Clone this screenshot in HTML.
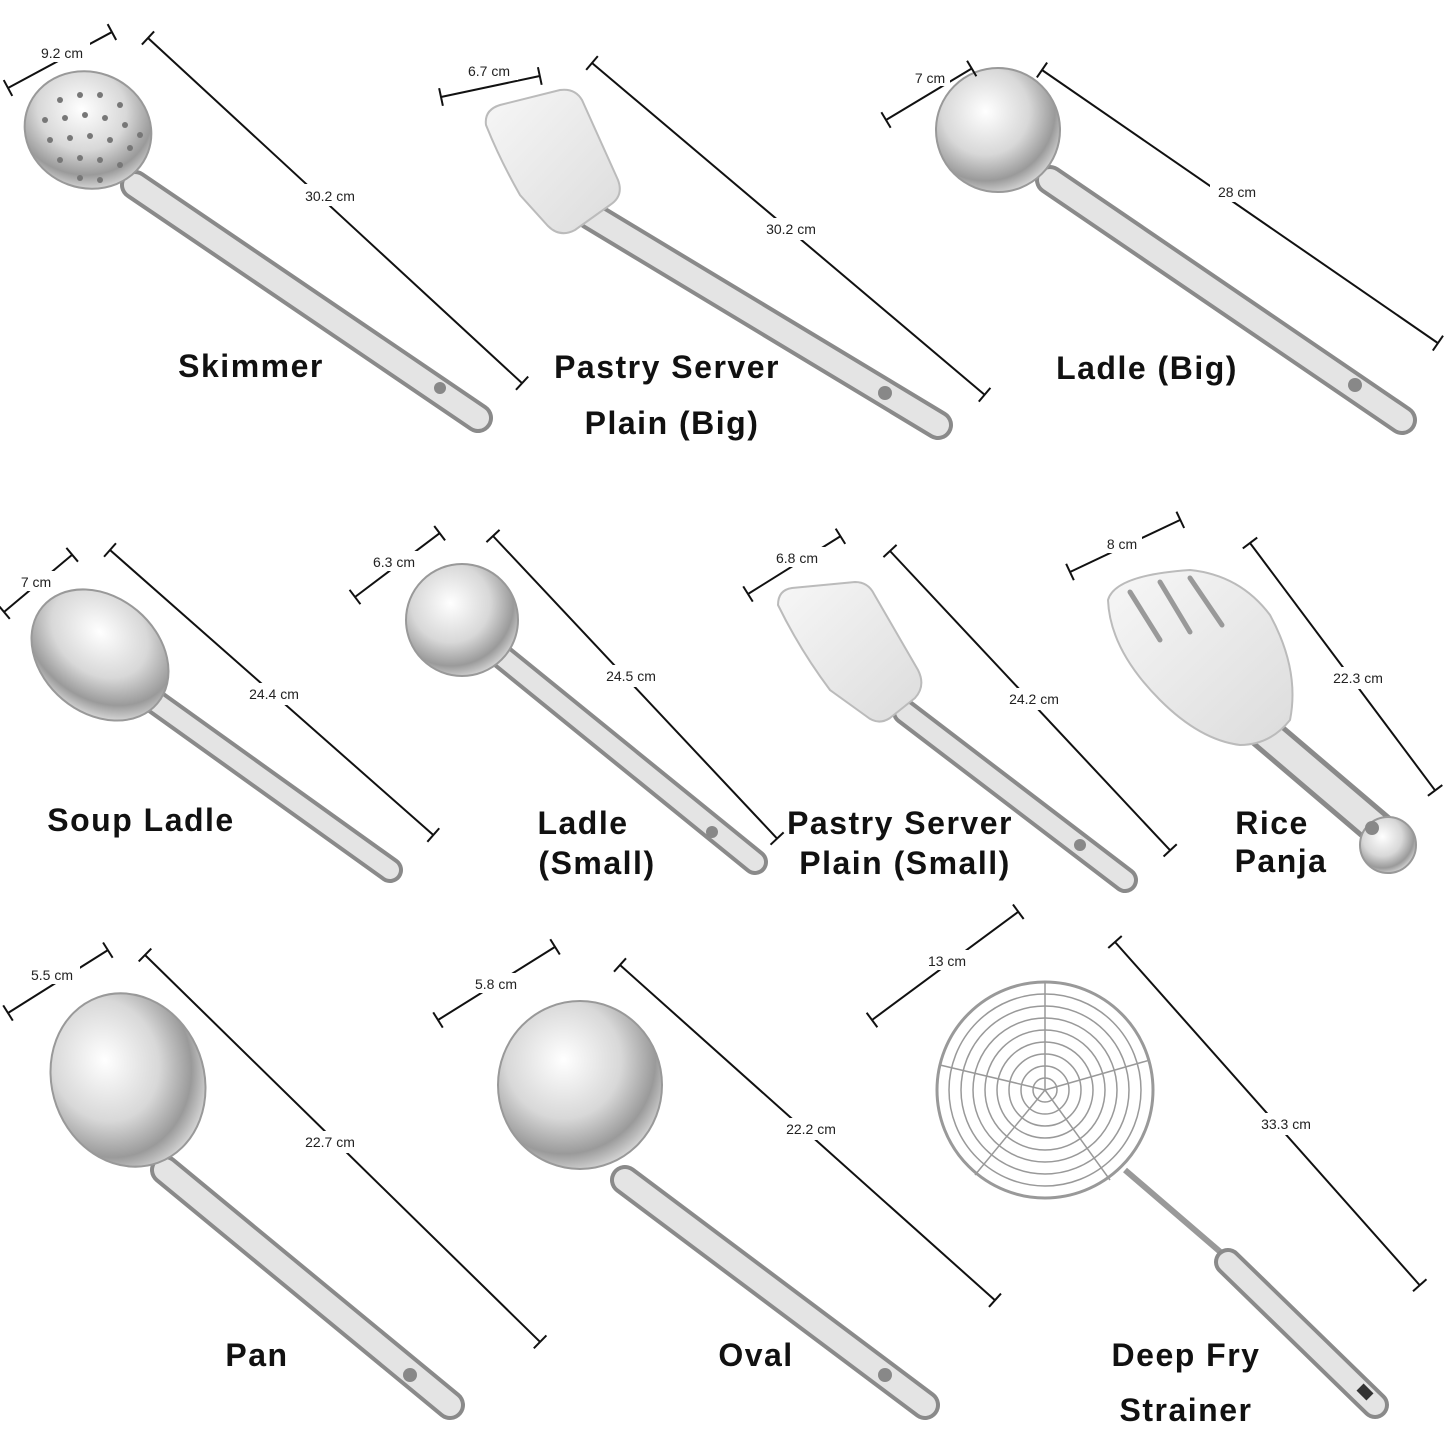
<!DOCTYPE html>
<html><head><meta charset="utf-8"><style>
html,body{margin:0;padding:0;background:#fff}
svg{display:block}
.n{font-family:"Liberation Sans",sans-serif;font-weight:bold;font-size:32px;fill:#111;letter-spacing:1.5px}
.c{font-family:"Liberation Sans",sans-serif;font-size:14px;fill:#222}
.d line{stroke:#111;stroke-width:2}
.h{stroke:#8a8a8a;stroke-linecap:round}
.hi{stroke:#e4e4e4;stroke-linecap:round}
</style></head><body>
<svg width="1445" height="1445" viewBox="0 0 1445 1445" xmlns="http://www.w3.org/2000/svg">
<defs>
<radialGradient id="s" cx="40%" cy="35%" r="70%"><stop offset="0" stop-color="#fff"/><stop offset="0.5" stop-color="#d8d8d8"/><stop offset="0.8" stop-color="#9a9a9a"/><stop offset="1" stop-color="#e0e0e0"/></radialGradient>
<linearGradient id="f" x1="0" y1="0" x2="1" y2="1"><stop offset="0" stop-color="#f7f7f7"/><stop offset="1" stop-color="#dcdcdc"/></linearGradient>
</defs>

<g>
<!-- Skimmer -->
<line class="h" x1="135" y1="185" x2="478" y2="418" stroke-width="30"/>
<line class="hi" x1="135" y1="185" x2="478" y2="418" stroke-width="22"/>
<ellipse cx="88" cy="130" rx="64" ry="58" transform="rotate(20 88 130)" fill="url(#s)" stroke="#999" stroke-width="2"/>
<g fill="#777">
<circle cx="60" cy="100" r="3"/><circle cx="80" cy="95" r="3"/><circle cx="100" cy="95" r="3"/><circle cx="120" cy="105" r="3"/>
<circle cx="45" cy="120" r="3"/><circle cx="65" cy="118" r="3"/><circle cx="85" cy="115" r="3"/><circle cx="105" cy="118" r="3"/><circle cx="125" cy="125" r="3"/><circle cx="140" cy="135" r="3"/>
<circle cx="50" cy="140" r="3"/><circle cx="70" cy="138" r="3"/><circle cx="90" cy="136" r="3"/><circle cx="110" cy="140" r="3"/><circle cx="130" cy="148" r="3"/>
<circle cx="60" cy="160" r="3"/><circle cx="80" cy="158" r="3"/><circle cx="100" cy="160" r="3"/><circle cx="120" cy="165" r="3"/><circle cx="80" cy="178" r="3"/><circle cx="100" cy="180" r="3"/>
</g>
<circle cx="440" cy="388" r="6" fill="#888"/>
<!-- Pastry big -->
<line class="h" x1="590" y1="215" x2="938" y2="425" stroke-width="30"/>
<line class="hi" x1="590" y1="215" x2="938" y2="425" stroke-width="22"/>
<path d="M486 125 Q484 110 500 105 L560 90 Q575 88 582 100 L618 180 Q624 196 610 205 L575 230 Q560 238 548 226 L520 195 Q500 160 486 125Z" fill="url(#f)" stroke="#bbb" stroke-width="2"/>
<circle cx="885" cy="393" r="7" fill="#888"/>
<!-- Ladle big -->
<line class="h" x1="1050" y1="180" x2="1402" y2="420" stroke-width="30"/>
<line class="hi" x1="1050" y1="180" x2="1402" y2="420" stroke-width="22"/>
<circle cx="998" cy="130" r="62" fill="url(#s)" stroke="#999" stroke-width="2"/>
<circle cx="1355" cy="385" r="7" fill="#888"/>
<!-- Soup ladle -->
<line class="h" x1="150" y1="698" x2="390" y2="870" stroke-width="26"/>
<line class="hi" x1="150" y1="698" x2="390" y2="870" stroke-width="18"/>
<ellipse cx="100" cy="655" rx="75" ry="58" transform="rotate(40 100 655)" fill="url(#s)" stroke="#999" stroke-width="2"/>
<!-- Ladle small -->
<line class="h" x1="500" y1="655" x2="755" y2="862" stroke-width="26"/>
<line class="hi" x1="500" y1="655" x2="755" y2="862" stroke-width="18"/>
<circle cx="462" cy="620" r="56" fill="url(#s)" stroke="#999" stroke-width="2"/>
<circle cx="712" cy="832" r="6" fill="#888"/>
<!-- Pastry small -->
<line class="h" x1="905" y1="712" x2="1125" y2="880" stroke-width="26"/>
<line class="hi" x1="905" y1="712" x2="1125" y2="880" stroke-width="18"/>
<path d="M778 605 Q778 590 792 588 L855 582 Q868 582 874 594 L918 670 Q926 686 915 698 L890 718 Q878 726 866 716 L830 690 Q800 650 778 605Z" fill="url(#f)" stroke="#bbb" stroke-width="2"/>
<circle cx="1080" cy="845" r="6" fill="#888"/>
<!-- Rice panja -->
<line class="h" x1="1250" y1="720" x2="1385" y2="835" stroke-width="36"/>
<line class="hi" x1="1250" y1="720" x2="1385" y2="835" stroke-width="26"/>
<path d="M1108 600 Q1115 575 1190 570 Q1240 575 1270 615 Q1300 670 1290 720 Q1270 745 1240 745 Q1200 740 1160 700 Q1110 650 1108 600Z" fill="url(#f)" stroke="#bbb" stroke-width="2"/>
<g stroke="#999" stroke-width="5" stroke-linecap="round"><line x1="1130" y1="592" x2="1160" y2="640"/><line x1="1160" y1="582" x2="1190" y2="632"/><line x1="1190" y1="578" x2="1222" y2="625"/></g>
<circle cx="1388" cy="845" r="28" fill="url(#s)" stroke="#999" stroke-width="2"/>
<circle cx="1372" cy="828" r="7" fill="#888"/>
<!-- Pan -->
<line class="h" x1="165" y1="1170" x2="450" y2="1405" stroke-width="30"/>
<line class="hi" x1="165" y1="1170" x2="450" y2="1405" stroke-width="22"/>
<ellipse cx="128" cy="1080" rx="76" ry="88" transform="rotate(-20 128 1080)" fill="url(#s)" stroke="#999" stroke-width="2"/>
<circle cx="410" cy="1375" r="7" fill="#888"/>
<!-- Oval -->
<line class="h" x1="625" y1="1180" x2="925" y2="1405" stroke-width="30"/>
<line class="hi" x1="625" y1="1180" x2="925" y2="1405" stroke-width="22"/>
<ellipse cx="580" cy="1085" rx="82" ry="84" fill="url(#s)" stroke="#999" stroke-width="2"/>
<circle cx="885" cy="1375" r="7" fill="#888"/>
<!-- Deep fry -->
<line x1="1125" y1="1170" x2="1232" y2="1262" stroke="#999" stroke-width="6"/>
<line class="h" x1="1228" y1="1262" x2="1375" y2="1405" stroke-width="28"/>
<line class="hi" x1="1228" y1="1262" x2="1375" y2="1405" stroke-width="20"/>
<rect x="1360" y="1385" width="10" height="14" fill="#333" transform="rotate(-45 1365 1392)"/>
<g fill="none" stroke="#999" stroke-width="1.5">
<circle cx="1045" cy="1090" r="108" stroke-width="3"/>
<circle cx="1045" cy="1090" r="96"/><circle cx="1045" cy="1090" r="84"/><circle cx="1045" cy="1090" r="72"/><circle cx="1045" cy="1090" r="60"/><circle cx="1045" cy="1090" r="48"/><circle cx="1045" cy="1090" r="36"/><circle cx="1045" cy="1090" r="24"/><circle cx="1045" cy="1090" r="12"/>
<line x1="1045" y1="1090" x2="1045" y2="982"/><line x1="1045" y1="1090" x2="1150" y2="1060"/><line x1="1045" y1="1090" x2="1110" y2="1180"/><line x1="1045" y1="1090" x2="975" y2="1175"/><line x1="1045" y1="1090" x2="940" y2="1065"/>
</g>
</g>

<g class="d">
<g transform="translate(8,88) rotate(-28.3)"><line x2="118"/><line y1="-9" y2="9"/><line x1="118" x2="118" y1="-9" y2="9"/></g>
<g transform="translate(148,38) rotate(42.7)"><line x2="509"/><line y1="-9" y2="9"/><line x1="509" x2="509" y1="-9" y2="9"/></g>
<g transform="translate(441,97) rotate(-12)"><line x2="101"/><line y1="-9" y2="9"/><line x1="101" x2="101" y1="-9" y2="9"/></g>
<g transform="translate(592,63) rotate(40.2)"><line x2="514"/><line y1="-9" y2="9"/><line x1="514" x2="514" y1="-9" y2="9"/></g>
<g transform="translate(886,120) rotate(-31)"><line x2="100"/><line y1="-9" y2="9"/><line x1="100" x2="100" y1="-9" y2="9"/></g>
<g transform="translate(1042,70) rotate(34.6)"><line x2="481"/><line y1="-9" y2="9"/><line x1="481" x2="481" y1="-9" y2="9"/></g>
<g transform="translate(4,612) rotate(-40)"><line x2="89"/><line y1="-9" y2="9"/><line x1="89" x2="89" y1="-9" y2="9"/></g>
<g transform="translate(110,550) rotate(41.4)"><line x2="431"/><line y1="-9" y2="9"/><line x1="431" x2="431" y1="-9" y2="9"/></g>
<g transform="translate(355,597) rotate(-37)"><line x2="106"/><line y1="-9" y2="9"/><line x1="106" x2="106" y1="-9" y2="9"/></g>
<g transform="translate(493,536) rotate(46.8)"><line x2="415"/><line y1="-9" y2="9"/><line x1="415" x2="415" y1="-9" y2="9"/></g>
<g transform="translate(748,594) rotate(-32)"><line x2="109"/><line y1="-9" y2="9"/><line x1="109" x2="109" y1="-9" y2="9"/></g>
<g transform="translate(890,551) rotate(46.9)"><line x2="410"/><line y1="-9" y2="9"/><line x1="410" x2="410" y1="-9" y2="9"/></g>
<g transform="translate(1070,572) rotate(-25.3)"><line x2="122"/><line y1="-9" y2="9"/><line x1="122" x2="122" y1="-9" y2="9"/></g>
<g transform="translate(1250,543) rotate(53.2)"><line x2="309"/><line y1="-9" y2="9"/><line x1="309" x2="309" y1="-9" y2="9"/></g>
<g transform="translate(8,1013) rotate(-32.2)"><line x2="118"/><line y1="-9" y2="9"/><line x1="118" x2="118" y1="-9" y2="9"/></g>
<g transform="translate(145,955) rotate(44.4)"><line x2="553"/><line y1="-9" y2="9"/><line x1="553" x2="553" y1="-9" y2="9"/></g>
<g transform="translate(438,1020) rotate(-32)"><line x2="138"/><line y1="-9" y2="9"/><line x1="138" x2="138" y1="-9" y2="9"/></g>
<g transform="translate(620,965) rotate(41.8)"><line x2="503"/><line y1="-9" y2="9"/><line x1="503" x2="503" y1="-9" y2="9"/></g>
<g transform="translate(872,1020) rotate(-36.5)"><line x2="182"/><line y1="-9" y2="9"/><line x1="182" x2="182" y1="-9" y2="9"/></g>
<g transform="translate(1115,942) rotate(48.4)"><line x2="459"/><line y1="-9" y2="9"/><line x1="459" x2="459" y1="-9" y2="9"/></g>
</g>

<g class="c" text-anchor="middle">
<rect x="36" y="42" width="54" height="20" fill="#fff"/><text x="62" y="58">9.2 cm</text>
<rect x="296" y="184" width="68" height="22" fill="#fff"/><text x="330" y="201">30.2 cm</text>
<rect x="462" y="60" width="56" height="20" fill="#fff"/><text x="489" y="76">6.7 cm</text>
<rect x="757" y="218" width="68" height="22" fill="#fff"/><text x="791" y="234">30.2 cm</text>
<rect x="910" y="66" width="40" height="20" fill="#fff"/><text x="930" y="83">7 cm</text>
<rect x="1210" y="180" width="54" height="22" fill="#fff"/><text x="1237" y="197">28 cm</text>
<rect x="16" y="571" width="40" height="20" fill="#fff"/><text x="36" y="587">7 cm</text>
<rect x="240" y="683" width="68" height="22" fill="#fff"/><text x="274" y="699">24.4 cm</text>
<rect x="366" y="551" width="56" height="20" fill="#fff"/><text x="394" y="567">6.3 cm</text>
<rect x="597" y="665" width="68" height="22" fill="#fff"/><text x="631" y="681">24.5 cm</text>
<rect x="769" y="547" width="56" height="20" fill="#fff"/><text x="797" y="563">6.8 cm</text>
<rect x="1000" y="688" width="68" height="22" fill="#fff"/><text x="1034" y="704">24.2 cm</text>
<rect x="1102" y="533" width="40" height="20" fill="#fff"/><text x="1122" y="549">8 cm</text>
<rect x="1324" y="667" width="68" height="22" fill="#fff"/><text x="1358" y="683">22.3 cm</text>
<rect x="24" y="964" width="56" height="20" fill="#fff"/><text x="52" y="980">5.5 cm</text>
<rect x="296" y="1131" width="68" height="22" fill="#fff"/><text x="330" y="1147">22.7 cm</text>
<rect x="468" y="973" width="56" height="20" fill="#fff"/><text x="496" y="989">5.8 cm</text>
<rect x="777" y="1118" width="68" height="22" fill="#fff"/><text x="811" y="1134">22.2 cm</text>
<rect x="921" y="950" width="52" height="20" fill="#fff"/><text x="947" y="966">13 cm</text>
<rect x="1252" y="1113" width="68" height="22" fill="#fff"/><text x="1286" y="1129">33.3 cm</text>
</g>

<g class="n" text-anchor="middle">
<text x="251" y="377">Skimmer</text>
<text x="667" y="378">Pastry Server</text>
<text x="672" y="434">Plain (Big)</text>
<text x="1147" y="379">Ladle (Big)</text>
<text x="141" y="831">Soup Ladle</text>
<text x="583" y="834">Ladle</text>
<text x="597" y="874">(Small)</text>
<text x="900" y="834">Pastry Server</text>
<text x="905" y="874">Plain (Small)</text>
<text x="1272" y="834">Rice</text>
<text x="1281" y="872">Panja</text>
<text x="257" y="1366">Pan</text>
<text x="756" y="1366">Oval</text>
<text x="1186" y="1366">Deep Fry</text>
<text x="1186" y="1421">Strainer</text>
</g>
</svg>
</body></html>
